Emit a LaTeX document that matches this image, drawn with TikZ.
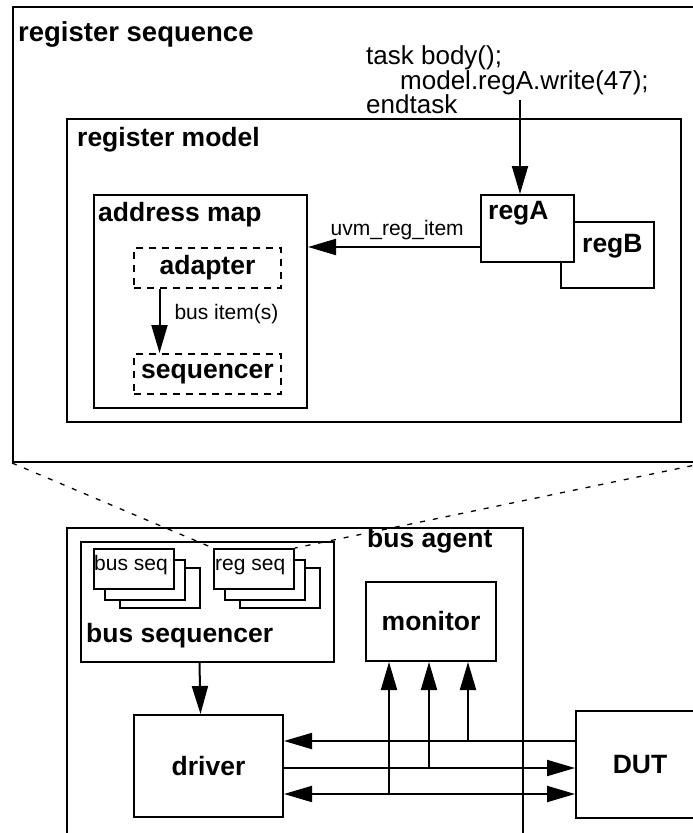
\documentclass[tikz,border=0pt]{standalone}
\usepackage{fontspec}
\setmainfont{Liberation Sans}
\usetikzlibrary{arrows.meta}
\tikzstyle{rBlock} = [rectangle, draw=black, line width=2pt, fill=white, inner sep=0pt, anchor=north west, text centered, font=\fontsize{26.5}{30}\selectfont\bfseries]
\tikzstyle{rDashBlock} = [rBlock, dash pattern=on 7pt off 6pt]
\tikzstyle{rTitle} = [anchor=base west, inner sep=0pt, font=\fontsize{26.5}{30}\selectfont\bfseries]
\tikzstyle{rSmall} = [anchor=base west, inner sep=0pt, font=\fontsize{21}{25}\selectfont]
\tikzstyle{rCode} = [anchor=base west, inner sep=0pt, font=\fontsize{26}{30}\selectfont]
\tikzstyle{rArrow} = [line width=2pt, -{Triangle[length=28pt, width=16pt]}]
\tikzstyle{rBiArrow} = [line width=2pt, {Triangle[length=28pt, width=16pt]}-{Triangle[length=28pt, width=16pt]}]
\tikzstyle{rZoom} = [line width=1.3pt, dash pattern=on 5pt off 8pt]

\begin{document}
\begin{tikzpicture}[x=1pt, y=-1pt]
    \useasboundingbox (0,0) rectangle (693,833);
    \clip (0,0) rectangle (693,833);
    % register sequence side
    \node (seqouter) [rBlock, minimum width=691pt, minimum height=455pt] at (12,6) {};
    \node (seqtitle) [rTitle, font=\fontsize{27.5}{30}\selectfont\bfseries] at (18,41) {register sequence};
    \node (codeA) [rCode] at (366,64) {task body();};
    \node (codeB) [rCode] at (400,89) {model.regA.write(47);};
    \node (codeC) [rCode] at (366,113) {endtask};
    \coordinate (codeEnd) at (520,100);
    \node (regmodel) [rBlock, minimum width=614pt, minimum height=303pt] at (66,118) {};
    \node (modeltitle) [rTitle] at (77,146) {register model};
    \node (addrmap) [rBlock, minimum width=213pt, minimum height=213pt] at (93,194) {};
    \node (maptitle) [rTitle] at (98,221) {address map};
    \node (adapter) [rDashBlock, minimum width=147pt, minimum height=40pt] at (133,247) {adapter};
    \node (sequencer) [rDashBlock, minimum width=147pt, minimum height=40pt] at (133,353) {sequencer};
    \node (regB) [rBlock, minimum width=93pt, minimum height=66pt] at (560,221) {};
    \node (regA) [rBlock, minimum width=93pt, minimum height=67pt] at (480,194) {};
    \node (regAtitle) [rTitle] at (488,219) {regA};
    \node (regBtitle) [rTitle] at (582,252) {regB};

    \draw [rArrow] (codeEnd) -- (codeEnd |- regA.north);
    \draw [rArrow] (regA.west |- adapter.north) -- node[rSmall, pos=0.874, yshift=12pt] {uvm\_reg\_item} (addrmap.east |- adapter.north);
    \draw [rArrow] ([xshift=-48pt]adapter.south) -- node[rSmall, pos=0.47, xshift=14pt] {bus item(s)} ([xshift=-48pt]sequencer.north);

    % bus agent side
    \node (busagent) [rBlock, minimum width=456pt, minimum height=340pt] at (66,527) {};
    \node (agenttitle) [rTitle] at (367,547) {bus agent};
    \node (busseqr) [rBlock, minimum width=253pt, minimum height=120pt] at (80,541) {};
    \node (seqrtitle) [rTitle] at (86,642) {bus sequencer};
    \node (busseqC) [rBlock, minimum width=80pt, minimum height=40pt] at (119,567) {};
    \node (busseqB) [rBlock, minimum width=80pt, minimum height=40pt] at (104,559) {};
    \node (busseqA) [rBlock, minimum width=80pt, minimum height=40pt] at (93,548) {};
    \node (busseqtext) [rSmall] at (94,570) {bus seq};
    \node (regseqC) [rBlock, minimum width=80pt, minimum height=40pt] at (239,567) {};
    \node (regseqB) [rBlock, minimum width=80pt, minimum height=40pt] at (224,559) {};
    \node (regseqA) [rBlock, minimum width=80pt, minimum height=40pt] at (213,548) {};
    \node (regseqtext) [rSmall] at (215,570) {reg seq};
    \node (monitor) [rBlock, minimum width=130pt, minimum height=79pt] at (365,581) {monitor};
    \node (driver) [rBlock, minimum width=149pt, minimum height=102pt] at (133,714) {driver};
    \node (dut) [rBlock, minimum width=128pt, minimum height=107pt] at (575,710) {DUT};

    \coordinate (lnA) at ([yshift=25pt]driver.east);
    \coordinate (lnB) at ([yshift=-2pt]driver.east);
    \coordinate (lnC) at ([yshift=-28pt]driver.east);
    \coordinate (mA) at ([xshift=37pt]monitor.south);
    \coordinate (mB) at ([xshift=-2pt]monitor.south);
    \coordinate (mC) at ([xshift=-42pt]monitor.south);

    \draw [rArrow] ([xshift=-8pt]busseqr.south) -- ([xshift=-8pt]driver.north);
    \draw [rArrow] (lnA -| dut.west) -- (lnA);
    \draw [rArrow] (lnB) -- (lnB -| dut.west);
    \draw [rBiArrow] (lnC) -- (lnC -| dut.west);
    \draw [rArrow] (lnA -| mA) -- (mA);
    \draw [rArrow] (lnB -| mB) -- (mB);
    \draw [rArrow] (lnC -| mC) -- (mC);

    \draw [rZoom] (seqouter.south west) -- (regseqA.north west);
    \draw [rZoom] (seqouter.south east) -- (regseqA.north east);
\end{tikzpicture}
\end{document}
